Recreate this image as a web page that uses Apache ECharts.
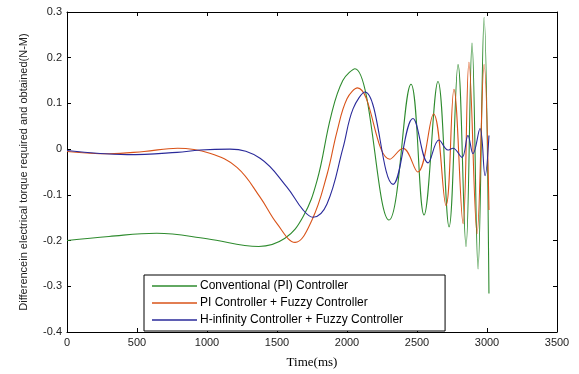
<!DOCTYPE html>
<html>
<head>
<meta charset="utf-8">
<script src="https://cdn.jsdelivr.net/npm/echarts@6/dist/echarts.min.js"></script>
<style>
  html, body { margin: 0; padding: 0; background: #fff; }
  #chart { width: 579px; height: 374px; }
</style>
</head>
<body>
<div id="chart"></div>
<script>
// values (time in ms, torque difference in N-M)
const seriesNames = [
  "Conventional (PI) Controller",
  "PI Controller + Fuzzy Controller",
  "H-infinity Controller + Fuzzy Controller",
];
const conventionalTime = [0, 300, 640, 1000, 1370, 1557, 1686, 1786, 1886, 1970, 2057, 2300, 2457, 2550, 2650, 2729, 2793, 2850, 2893, 2936, 2979, 3014];
const conventionalVal = [-0.2, -0.191, -0.184, -0.196, -0.213, -0.195, -0.148, -0.069, 0.073, 0.15, 0.176, -0.155, 0.142, -0.144, 0.148, -0.17, 0.185, -0.213, 0.232, -0.262, 0.288, -0.316];
const fuzzyPiTime = [0, 300, 550, 790, 1020, 1214, 1379, 1500, 1629, 1750, 1857, 1929, 2000, 2075, 2307, 2400, 2505, 2618, 2707, 2764, 2829, 2871, 2929, 2979, 3014];
const fuzzyPiVal = [-0.005, -0.01, -0.005, 0.002, -0.009, -0.04, -0.105, -0.163, -0.204, -0.155, -0.056, 0.039, 0.11, 0.134, -0.022, 0.002, -0.05, 0.077, -0.123, 0.131, -0.163, 0.19, -0.185, 0.185, -0.133];
const hinfTime = [0, 430, 786, 950, 1164, 1379, 1571, 1686, 1757, 1857, 1971, 2043, 2129, 2329, 2471, 2579, 2657, 2721, 2757, 2821, 2864, 2900, 2950, 2986, 3014];
const hinfVal = [-0.003, -0.012, -0.007, -0.002, 0.0, -0.02, -0.083, -0.133, -0.149, -0.12, 0.002, 0.088, 0.125, -0.077, 0.067, -0.03, 0.02, -0.002, 0.002, -0.018, 0.03, -0.01, 0.045, -0.058, 0.03];
const colors = ["#2e8b2e", "#d95319", "#2a2a9a"];

const pairs = (xs, ys) => xs.map((x, i) => [x, ys[i]]);
const chart = echarts.init(document.getElementById("chart"));

const tickStyle = { inside: true, length: 4, lineStyle: { color: "#000" } };
const lineStyle = { onZero: false, lineStyle: { color: "#000", width: 1 } };

function makeSeries(i, data) {
  return {
    name: seriesNames[i],
    type: "line",
    smooth: 0.4,
    symbol: "none",
    data: data,
    lineStyle: { color: colors[i], width: 1.1 },
    itemStyle: { color: colors[i] },
  };
}

chart.setOption({
  animation: false,
  backgroundColor: "#fff",
  textStyle: { fontFamily: "Liberation Sans, Arial, sans-serif" },
  grid: { left: 67, right: 22, top: 12, bottom: 37 },
  legend: {
    data: seriesNames,
    orient: "vertical",
    left: 144,
    top: 275,
    padding: [4, 42, 4, 8],
    icon: "rect",
    itemGap: 3,
    itemWidth: 45,
    itemHeight: 1.5,
    borderColor: "#000",
    borderWidth: 1,
    backgroundColor: "#fff",
    textStyle: { fontSize: 12, lineHeight: 14, color: "#000", padding: [0, 0, 0, -2] },
  },
  xAxis: [
    {
      type: "value",
      min: 0,
      max: 3500,
      interval: 500,
      name: "Time(ms)",
      nameLocation: "middle",
      nameGap: 24,
      nameTextStyle: { fontFamily: "Liberation Serif, Times New Roman, serif", fontSize: 13, color: "#000" },
      axisLine: lineStyle,
      axisTick: tickStyle,
      axisLabel: { color: "#222", fontSize: 11, margin: 5, formatter: (v) => String(v) },
      splitLine: { show: false },
    },
    {
      type: "value",
      position: "top",
      min: 0,
      max: 3500,
      interval: 500,
      axisLine: lineStyle,
      axisTick: tickStyle,
      axisLabel: { show: false },
      splitLine: { show: false },
    },
  ],
  yAxis: [
    {
      type: "value",
      min: -0.4,
      max: 0.3,
      interval: 0.1,
      name: "Differencein electrical torque required and obtained(N-M)",
      nameLocation: "middle",
      nameGap: 38,
      nameTextStyle: { fontSize: 11, color: "#222" },
      axisLine: lineStyle,
      axisTick: tickStyle,
      axisLabel: {
        color: "#222",
        fontSize: 11,
        margin: 5,
        formatter: (v) => String(Math.round(v * 10) / 10),
      },
      splitLine: { show: false },
    },
    {
      type: "value",
      position: "right",
      min: -0.4,
      max: 0.3,
      interval: 0.1,
      axisLine: lineStyle,
      axisTick: tickStyle,
      axisLabel: { show: false },
      splitLine: { show: false },
    },
  ],
  series: [
    makeSeries(0, pairs(conventionalTime, conventionalVal)),
    makeSeries(1, pairs(fuzzyPiTime, fuzzyPiVal)),
    makeSeries(2, pairs(hinfTime, hinfVal)),
  ],
});
</script>
</body>
</html>
